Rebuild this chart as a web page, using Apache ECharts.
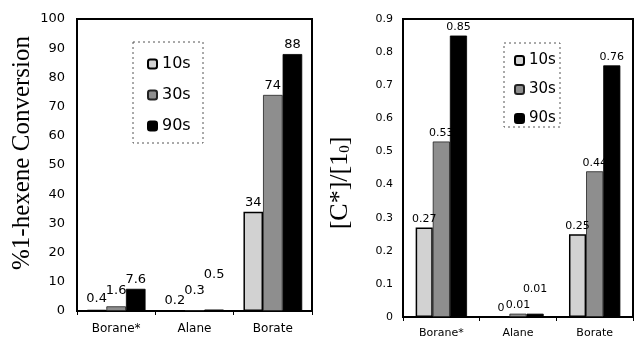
<!DOCTYPE html>
<html><head><meta charset="utf-8">
<script src="https://cdn.jsdelivr.net/npm/echarts@6/dist/echarts.min.js"></script>
<style>html,body{margin:0;padding:0;background:#fff}#c{width:634px;height:339px}</style>
</head><body><div id="c"></div>
<script>
const categories = ['Borane*', 'Alane', 'Borate'];
const seriesNames = ['10s', '30s', '90s'];
// left chart: % 1-hexene conversion
const conv10 = [0.4, 0.2, 34];
const conv30 = [1.6, 0.3, 74];
const conv90 = [7.6, 0.5, 88];
// right chart: [C*]/[1_0]
const act10 = [0.27, 0, 0.25];
const act30 = [0.53, 0.01, 0.44];
const act90 = [0.85, 0.01, 0.76];
const leftTicks = { min: 0, max: 100, interval: 10 };
const rightTicks = { min: 0, max: 0.9, interval: 0.1 };

// style only: extra label lift (px) per series per category
const liftLeft = [[2, 0, 0], [6, 10, 0], [0, 25, 0]];
const liftRight = [[0, 0, 0], [0, 0, 0], [0, 16, 0]];

const F = 'DejaVu Sans';
const styles = [
  { color: '#d2d2d2', borderColor: '#000', borderWidth: 1.5 },
  { color: '#8e8e8e', borderColor: '#222', borderWidth: 0.8 },
  { color: '#000', borderColor: '#000', borderWidth: 0.8 }
];

function mkSeries(vals, idx, xi, lifts, fs, fmt) {
  return {
    name: seriesNames[idx], type: 'bar', xAxisIndex: xi, yAxisIndex: xi,
    barGap: '0%', barCategoryGap: xi === 0 ? '25%' : '33%',
    itemStyle: styles[idx],
    label: { show: true, position: 'top', color: '#000', fontFamily: F, fontSize: fs, distance: 3,
             formatter: fmt },
    data: vals.map((v, i) => ({ value: v, label: { offset: [0, -lifts[idx][i]] } })),
    animation: false
  };
}

const chart = echarts.init(document.getElementById('c'));
const axisLineStyle = { lineStyle: { color: '#000', width: 2 } };
chart.setOption({
  animation: false,
  grid: [
    { left: 77, right: 322, top: 19, bottom: 28, show: true, borderColor: '#000', borderWidth: 2 },
    { left: 403, right: 1, top: 19, bottom: 20, show: true, borderColor: '#000', borderWidth: 2 }
  ],
  xAxis: [0, 1].map(i => ({
    type: 'category', gridIndex: i, data: categories,
    axisLine: axisLineStyle,
    axisTick: { show: true, length: 4, lineStyle: { color: '#000' } },
    axisLabel: { color: '#000', fontFamily: F, fontSize: i === 0 ? 12 : 11, margin: i === 0 ? 12 : 11 }
  })),
  yAxis: [
    { type: 'value', gridIndex: 0, ...leftTicks, splitLine: { show: false },
      axisLine: { show: true, ...axisLineStyle }, axisTick: { show: false },
      axisLabel: { color: '#000', fontFamily: F, fontSize: 13, margin: 12 },
      name: '%1-hexene Conversion', nameLocation: 'middle', nameRotate: 90, nameGap: 42,
      nameTextStyle: { color: '#000', fontFamily: 'Liberation Serif', fontSize: 25, padding: [0, 0, 0, 24] } },
    { type: 'value', gridIndex: 1, ...rightTicks, splitLine: { show: false },
      axisLine: { show: true, ...axisLineStyle }, axisTick: { show: false },
      axisLabel: { color: '#000', fontFamily: F, fontSize: 11, margin: 10,
                   formatter: v => v === 0 ? '0' : v.toFixed(1) },
      name: '{a|[C*]/[1}{s|0}{a|]}', nameLocation: 'middle', nameRotate: 90, nameGap: 50,
      nameTextStyle: { color: '#000', padding: [0, 30, 0, 0], rich: {
        a: { fontFamily: 'Liberation Serif', fontSize: 26, color: '#000' },
        s: { fontFamily: 'Liberation Serif', fontSize: 15, color: '#000', verticalAlign: 'bottom', padding: [9, 0, 0, 0] } } } }
  ],
  legend: [
    { left: 142, top: 50, orient: 'vertical', itemWidth: 9, itemHeight: 9, itemGap: 13,
      data: seriesNames, textStyle: { fontFamily: F, fontSize: 16, color: '#000', lineHeight: 18 }, selectedMode: false },
    { left: 509, top: 47, orient: 'vertical', itemWidth: 9, itemHeight: 9, itemGap: 12,
      data: seriesNames, textStyle: { fontFamily: F, fontSize: 15, color: '#000', lineHeight: 17 }, selectedMode: false }
  ],
  graphic: [
    { type: 'rect', shape: { x: 133, y: 42, width: 70, height: 101 },
      style: { fill: 'none', stroke: '#555', lineWidth: 1, lineDash: [2, 3] } },
    { type: 'rect', shape: { x: 504, y: 43, width: 56, height: 84 },
      style: { fill: 'none', stroke: '#555', lineWidth: 1, lineDash: [2, 3] } }
  ],
  series: [
    mkSeries(conv10, 0, 0, liftLeft, 13), mkSeries(conv30, 1, 0, liftLeft, 13), mkSeries(conv90, 2, 0, liftLeft, 13),
    mkSeries(act10, 0, 1, liftRight, 11), mkSeries(act30, 1, 1, liftRight, 11), mkSeries(act90, 2, 1, liftRight, 11)
  ]
});
</script></body></html>
